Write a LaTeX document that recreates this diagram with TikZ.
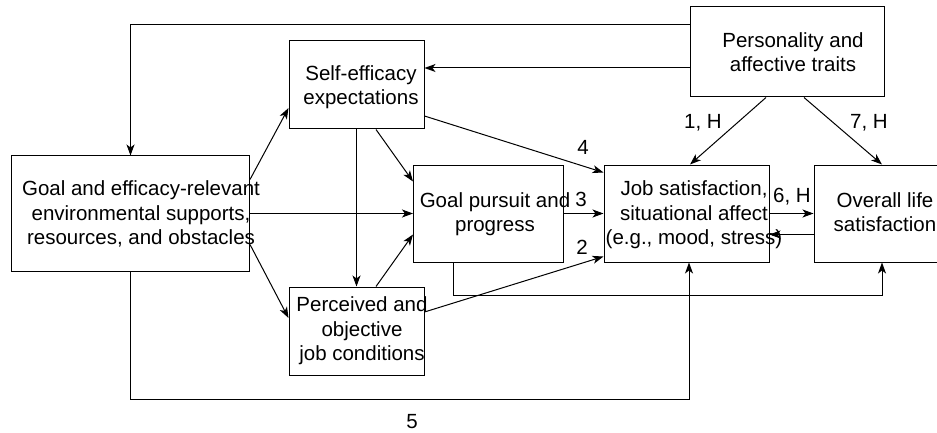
\documentclass[tikz,border=0pt]{standalone}
\usepackage{fontspec}
\setmainfont{Liberation Sans}
\usetikzlibrary{arrows.meta}

\begin{document}
\begin{tikzpicture}[x=1pt, y=-1pt,
    box/.style={draw, line width=1pt, inner sep=0pt},
    txt/.style={inner sep=0pt, align=center, font=\fontsize{20.5}{24.5}\selectfont},
    lbl/.style={inner sep=0pt, font=\fontsize{20.5}{24.5}\selectfont},
    arr/.style={line width=1pt, -{Stealth[length=11pt, width=8pt, inset=3pt]}}]
    \useasboundingbox (0,0) rectangle (937,433);

    %Nodes
    \node[box, minimum width=238pt, minimum height=115pt] at (130.5,213.5) (env)  {};
    \node[box, minimum width=135pt, minimum height=88pt]  at (356.5,85)    (self) {};
    \node[box, minimum width=194pt, minimum height=90pt]  at (787,52)      (pers) {};
    \node[box, minimum width=150pt, minimum height=97pt]  at (488.5,213.5) (goal) {};
    \node[box, minimum width=135pt, minimum height=88pt]  at (356.5,331)   (perc) {};
    \node[box, minimum width=165pt, minimum height=97pt]  at (686.5,213.5) (job)  {};
    \node[box, minimum width=142pt, minimum height=97pt]  at (885,213.5)   (life) {};

    %Texts
    \node[txt] at (141,214)  (envtxt)  {Goal and efficacy-relevant\\environmental supports,\\resources, and obstacles};
    \node[txt] at (361,87)   (selftxt) {Self-efficacy\\expectations};
    \node[txt] at (793,52)   (perstxt) {Personality and\\affective traits};
    \node[txt] at (495,214)  (goaltxt) {Goal pursuit and\\progress};
    \node[txt] at (362,331)  (perctxt) {Perceived and\\objective\\job conditions};
    \node[txt] at (694,215)  (jobtxt)  {Job satisfaction,\\situational affect\\(e.g., mood, stress)};
    \node[txt] at (885,212)  (lifetxt) {Overall life\\satisfaction};

    %Labels
    \node[lbl] at (703,123)   (l1) {1, H};
    \node[lbl] at (869,123)   (l7) {7, H};
    \node[lbl] at (583,147)   (l4) {4};
    \node[lbl] at (581,199.5) (l3) {3};
    \node[lbl] at (582,247.5) (l2) {2};
    \node[lbl] at (792,197)   (l6) {6, H};
    \node[lbl] at (412,422)   (l5) {5};

    %Lines
    \draw[arr] ([yshift=27pt]pers.west) -| (env.north);
    \draw[arr] ([yshift=-16pt]pers.west) -- ([yshift=17pt]self.east);
    \draw[arr] ([xshift=-21pt]pers.south) -- ([xshift=3.5pt]job.north);
    \draw[arr] ([xshift=17pt]pers.south) -- ([xshift=-3pt]life.north);
    \draw[arr] ([yshift=-31pt]self.east) -- ([yshift=-8pt]job.north west);
    \draw[arr] ([xshift=19.5pt]self.south) -- ([yshift=-17pt]goal.north west);
    \draw[arr] (self.south) -- (perc.north);
    \draw[arr] ([yshift=-24pt]env.north east) -- ([yshift=-23pt]self.west);
    \draw[arr] (env.east) -- (goal.west);
    \draw[arr] ([yshift=-89pt]env.north east) -- ([yshift=13pt]perc.west);
    \draw[arr] ([xshift=19.5pt]perc.north) -- ([yshift=28pt]goal.south west);
    \draw[arr] ([yshift=19pt]perc.east) -- ([yshift=6pt]job.south west);
    \draw[arr] (goal.east) -- (job.west);
    \draw[arr] (job.east) -- (life.west);
    \draw[arr] ([yshift=-21pt]life.west) -- ([yshift=-21pt]job.east);
    \draw[arr] ([xshift=-35pt]goal.south) -- ++(0,33) -| ([xshift=-3pt]life.south);
    \draw[arr] (env.south) -- ++(0,128) -| ([xshift=2.5pt]job.south);
\end{tikzpicture}
\end{document}
